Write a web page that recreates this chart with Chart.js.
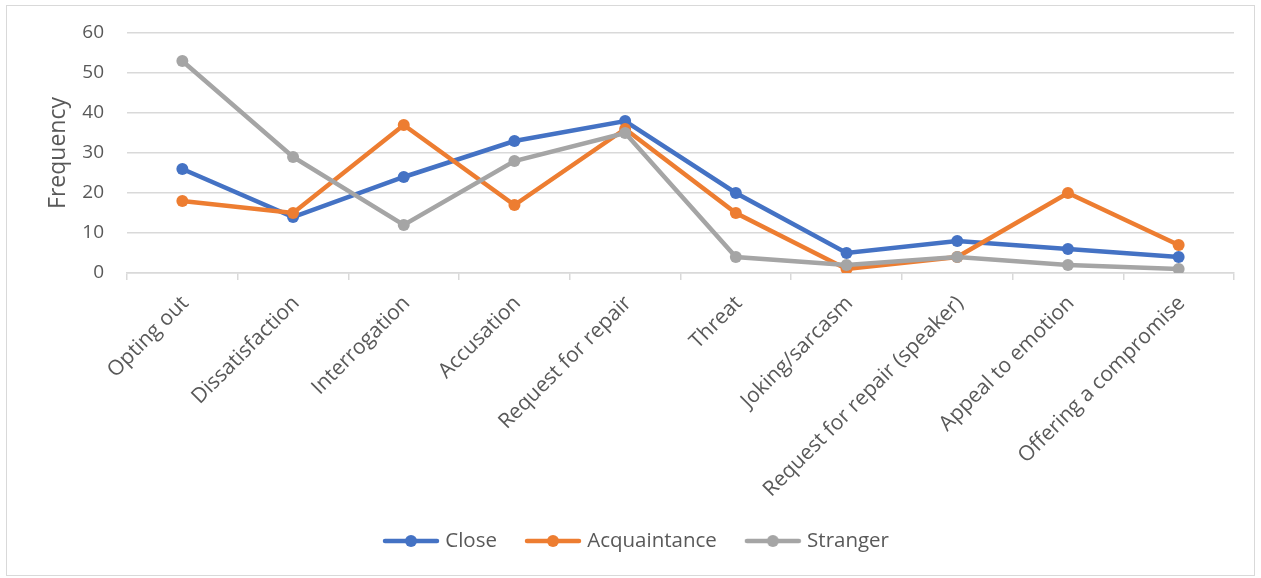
<!DOCTYPE html>
<html>
<head>
<meta charset="utf-8">
<script src="https://cdn.jsdelivr.net/npm/chart.js@4"></script>
<style>
  html, body { margin: 0; padding: 0; background: #fff; }
  #moldura {
    position: absolute; left: 6px; top: 5px;
    width: 1247px; height: 569px;
    border: 1px solid #d9d9d9;
  }
</style>
</head>
<body>
<div id="moldura"><canvas id="grafico"></canvas></div>
<script>
// ── DADOS
const CATEGORIAS = ['Opting out', 'Dissatisfaction', 'Interrogation', 'Accusation', 'Request for repair',
  'Threat', 'Joking/sarcasm', 'Request for repair (speaker)', 'Appeal to emotion', 'Offering a compromise'];
const CLOSE        = [26, 14, 24, 33, 38, 20, 5, 8, 6, 4];
const ACQUAINTANCE = [18, 15, 37, 17, 36, 15, 1, 4, 20, 7];
const STRANGER     = [53, 29, 12, 28, 35, 4, 2, 4, 2, 1];
const Y_TICKS      = [0, 10, 20, 30, 40, 50, 60];

const CORES = { close: '#4472C4', acq: '#ED7D31', str: '#A5A5A5' };
const TEXTO = '#595959';
const GRADE = '#d9d9d9';

// ícone da legenda: linha com marcador redondo
function iconeLegenda(cor) {
  const c = document.createElement('canvas');
  c.width = 58; c.height = 14;
  const ctx = c.getContext('2d');
  ctx.strokeStyle = cor; ctx.lineWidth = 4.5; ctx.lineCap = 'round';
  ctx.beginPath(); ctx.moveTo(3, 7); ctx.lineTo(55, 7); ctx.stroke();
  ctx.fillStyle = cor;
  ctx.beginPath(); ctx.arc(29, 7, 6, 0, Math.PI * 2); ctx.fill();
  return c;
}

function serie(label, data, cor, ordem) {
  return {
    label, data, order: ordem,
    borderColor: cor, backgroundColor: cor,
    borderWidth: 4.5,
    pointRadius: 6, pointBorderWidth: 0,
    pointBackgroundColor: cor,
    tension: 0,
    pointStyle: 'circle',
    icone: iconeLegenda(cor)
  };
}

Chart.defaults.font.family = '"Open Sans"';
Chart.defaults.color = TEXTO;

new Chart(document.getElementById('grafico'), {
  type: 'line',
  data: {
    labels: CATEGORIAS,
    datasets: [
      serie('Close', CLOSE, CORES.close, 2),
      serie('Acquaintance', ACQUAINTANCE, CORES.acq, 1),
      serie('Stranger', STRANGER, CORES.str, 0)
    ]
  },
  options: {
    responsive: true,
    maintainAspectRatio: false,
    animation: false,
    layout: { padding: { left: 35, right: 20, top: 27, bottom: 13.75 } },
    plugins: {
      tooltip: { enabled: false },
      legend: {
        position: 'bottom',
        labels: {
          usePointStyle: true,
          pointStyleWidth: 48,
          padding: 32,
          font: { size: 20.5 },
          color: TEXTO,
          sort: (a, b) => a.datasetIndex - b.datasetIndex,
          generateLabels: chart => chart.data.datasets.map((ds, i) => ({
            text: ds.label,
            pointStyle: ds.icone,
            fillStyle: ds.borderColor,
            strokeStyle: ds.borderColor,
            lineWidth: 0,
            fontColor: TEXTO,
            hidden: false,
            datasetIndex: i
          }))
        }
      }
    },
    scales: {
      x: {
        offset: true,
        grid: { offset: true, drawOnChartArea: false, drawTicks: true, tickLength: 7, color: GRADE, lineWidth: 1.5 },
        border: { display: true, color: GRADE, width: 1.5 },
        ticks: { autoSkip: false, minRotation: 45, maxRotation: 45, padding: 11, labelOffset: 3, font: { size: 21 }, color: TEXTO },
        afterFit: s => { s.height = 225.75; }
      },
      y: {
        min: 0, max: 60,
        afterBuildTicks: s => { s.ticks = Y_TICKS.map(v => ({ value: v })); },
        // tick invisível faz o afastamento dos rótulos (padding inflaria o topo)
        grid: { color: GRADE, lineWidth: 1.5, drawTicks: true, tickLength: 23, tickColor: 'transparent' },
        border: { display: false },
        ticks: { padding: 0, font: { size: 19 }, color: TEXTO },
        title: { display: true, text: 'Frequency', font: { size: 23 }, color: TEXTO, padding: { top: 2.2, bottom: 0 } },
        afterFit: s => { s.width = 85; }
      }
    }
  }
});
</script>
</body>
</html>
